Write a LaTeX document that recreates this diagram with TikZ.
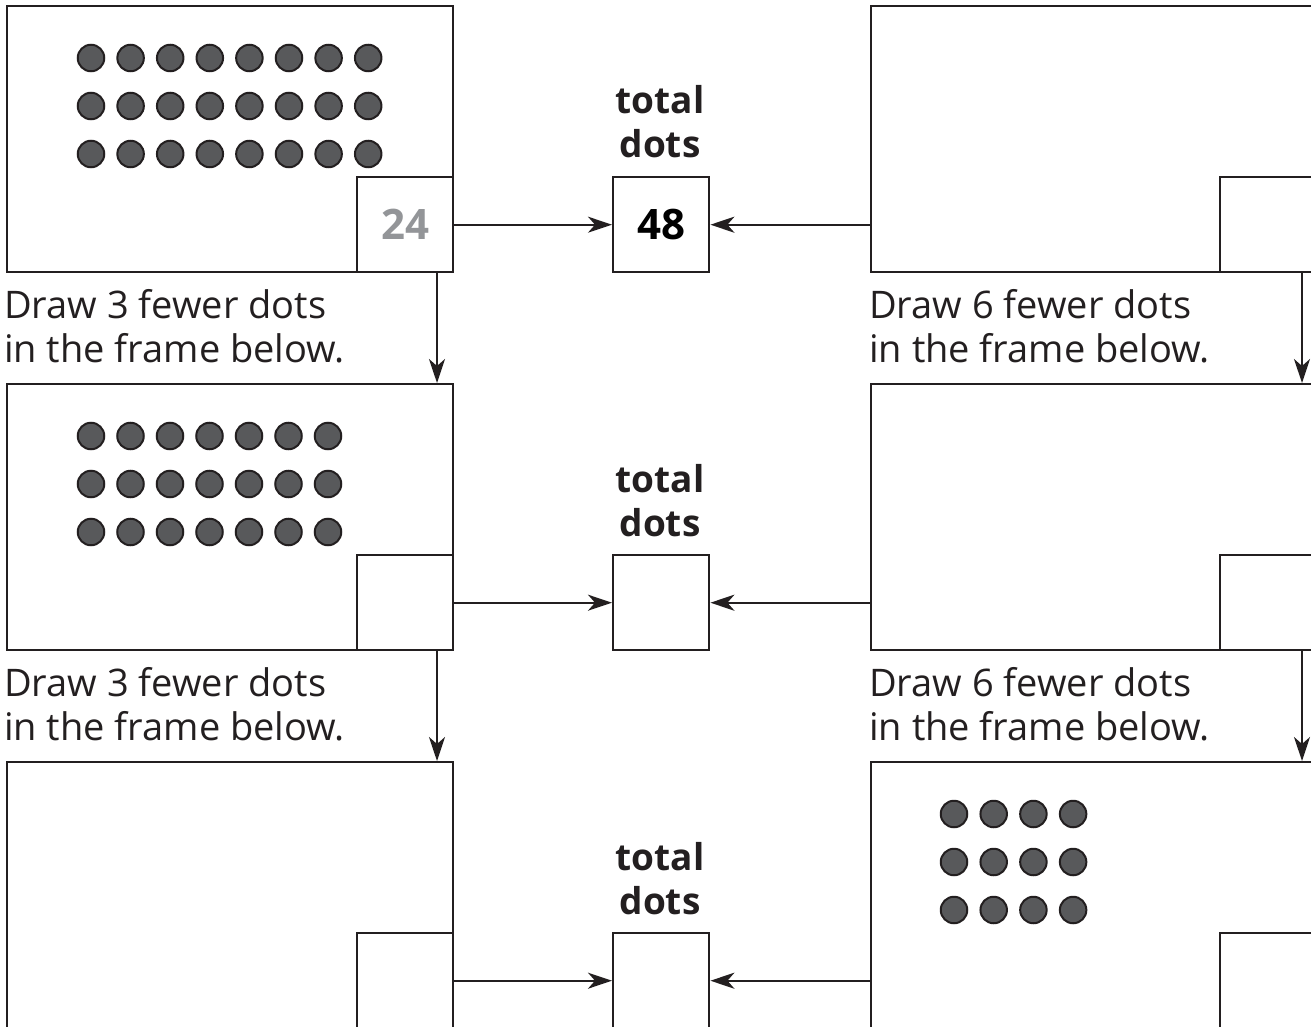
\documentclass[tikz,border=0pt]{standalone}
\usepackage{fontspec}
\setmainfont{Open Sans}
\usetikzlibrary{arrows.meta}
\definecolor{ink}{HTML}{231F20}
\definecolor{dotfill}{HTML}{58595B}
\definecolor{numgray}{HTML}{939598}
\begin{document}
\begin{tikzpicture}[x=1pt,y=-1pt,
  frame/.style={rectangle,draw=ink,line width=2.4pt,minimum width=446pt,minimum height=266pt,inner sep=0pt,anchor=north west},
  ansbox/.style={rectangle,draw=ink,line width=2.4pt,fill=white,minimum width=96pt,minimum height=95pt,inner sep=0pt,anchor=north west,text=black,font=\bfseries\fontsize{42}{44}\selectfont},
  arr/.style={draw=ink,line width=2pt,-{Stealth[length=24pt,width=16pt,inset=7pt]}},
  dotc/.style={circle,draw=ink,fill=dotfill,line width=2pt,minimum size=26.5pt,inner sep=0pt},
  instr/.style={anchor=base west,inner sep=0pt,text=ink,font=\fontsize{38}{44}\selectfont},
  lbl/.style={anchor=base,inner sep=0pt,text=ink,font=\bfseries\fontsize{37}{44}\selectfont}]
\useasboundingbox (0,0) rectangle (1311,1027);
\clip (0,0) rectangle (1311,1027);
\fill[white] (0,0) rectangle (1311,1027);

% ---------- row 1 ----------
\node[frame] (L1) at (6,5) {};
\node[ansbox] (a1) at (356,176) {\textcolor{numgray}{24}};
\node[ansbox] (t1) at (612,176) {48};
\node[frame] (R1) at (870,5) {};
\node[ansbox] (b1) at (1219,176) {};
\node[lbl] (tl1) at (660,114) {total};
\node[lbl] (td1) at (660,158) {dots};
\foreach \j/\yy in {0/58,1/106,2/154}
  \foreach \i in {0,...,7}
    \node[dotc] (d1-\j-\i) at (91+39.6*\i,\yy) {};
\node[instr] (i1a) at (4,318) {Draw 3 fewer dots};
\node[instr] (i1b) at (4,362) {in the frame below.};
\node[instr] (j1a) at (869,318) {Draw 6 fewer dots};
\node[instr] (j1b) at (869,362) {in the frame below.};

% ---------- row 2 ----------
\node[frame] (L2) at (6,383) {};
\node[ansbox] (a2) at (356,554) {};
\node[ansbox] (t2) at (612,554) {};
\node[frame] (R2) at (870,383) {};
\node[ansbox] (b2) at (1219,554) {};
\node[lbl] (tl2) at (660,492) {total};
\node[lbl] (td2) at (660,536) {dots};
\foreach \j/\yy in {0/436,1/484,2/532}
  \foreach \i in {0,...,6}
    \node[dotc] (d2-\j-\i) at (91+39.5*\i,\yy) {};
\node[instr] (i2a) at (4,696) {Draw 3 fewer dots};
\node[instr] (i2b) at (4,740) {in the frame below.};
\node[instr] (j2a) at (869,696) {Draw 6 fewer dots};
\node[instr] (j2b) at (869,740) {in the frame below.};

% ---------- row 3 ----------
\node[frame] (L3) at (6,761) {};
\node[ansbox] (a3) at (356,932) {};
\node[ansbox] (t3) at (612,932) {};
\node[frame] (R3) at (870,761) {};
\node[ansbox] (b3) at (1219,932) {};
\node[lbl] (tl3) at (660,870) {total};
\node[lbl] (td3) at (660,914) {dots};
\foreach \j/\yy in {0/814,1/862,2/910}
  \foreach \i in {0,...,3}
    \node[dotc] (d3-\j-\i) at (954+39.7*\i,\yy) {};

% ---------- connectors ----------
\foreach \r in {1,2,3}{
  \draw[arr] (a\r.east) -- (t\r.west);
  \draw[arr] (t\r -| R\r.west) -- (t\r.east);
}
\draw[arr] ([xshift=431pt]L1.south west) -- ([xshift=431pt]L2.north west);
\draw[arr] ([xshift=431pt]L2.south west) -- ([xshift=431pt]L3.north west);
\draw[arr] ([xshift=432pt]R1.south west) -- ([xshift=432pt]R2.north west);
\draw[arr] ([xshift=432pt]R2.south west) -- ([xshift=432pt]R3.north west);
\end{tikzpicture}
\end{document}
